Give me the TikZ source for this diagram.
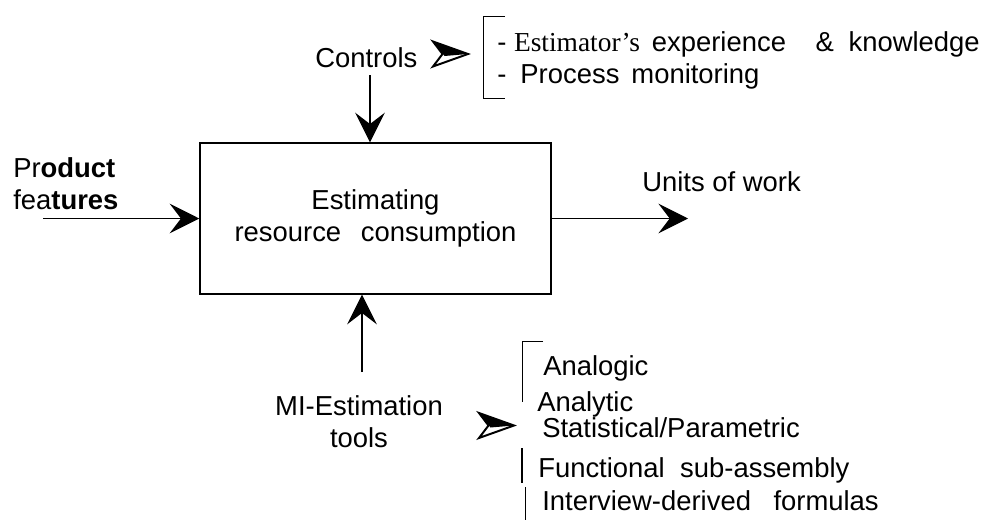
\documentclass[tikz,border=0pt]{standalone}
\usepackage{fontspec}
\setmainfont{Liberation Sans}
\newfontfamily\serifest{Liberation Serif}
\usepackage{tikz}
\usetikzlibrary{arrows.meta}
\tikzstyle{process} = [rectangle, minimum width=8.775cm, minimum height=3.775cm, inner sep=0pt, text centered, align=center, draw=black, line width=1pt]
\tikzstyle{arrow} = [line width=0.8pt,-{Stealth[length=21pt,width=21pt,inset=8pt]}]
\tikzstyle{txt} = [inner sep=0pt, anchor=base west]
\tikzset{bracket/.style={line width=0.7pt},
         pointer/.pic={
           \filldraw[fill=white, line width=1.4pt, line join=miter] (-17.5,-12.5) -- (17.5,0) -- (-17.5,12.5) -- (-8,0) -- cycle;
           \fill (-17.5,-12.5) -- (17.5,0) -- (-6,2) -- cycle;
         }
}

\begin{document}
\begin{tikzpicture}[x=0.025cm, y=-0.025cm, every node/.style={font=\fontsize{19.5}{23}\selectfont}]
\useasboundingbox (0,0) rectangle (989,520);
\node (box) [process] at (375.5,218.5) {Estimating\\resource\hspace{14pt}consumption};
\node (pf) [inner sep=0pt, anchor=west, align=left] at (13,184) {Pr\textbf{oduct}\\fea\textbf{tures}};
\node (uow) [txt] at (642,191) {Units\ of\ work};
\node (ctrl) [txt] at (315,67) {Controls};
\node (ctl1) [txt] at (497,51) {- {\serifest Estimator’s}\hspace{8.5pt}experience\hspace{21pt}\&\hspace{10.5pt}knowledge};
\node (ctl2) [txt] at (497,83) {-\hspace{10pt}Process\hspace{8.5pt}monitoring};
\node (mech) [inner sep=0pt, align=center] at (359,422) {MI-Estimation\\tools};
\node (t1) [txt] at (543,375) {Analogic};
\node (t2) [txt] at (537,411) {Analytic};
\node (t3) [txt] at (542,437) {Statistical/Parametric};
\node (t4) [txt] at (538,477) {Functional\hspace{11pt}sub-assembly};
\node (t5) [txt] at (542,510) {Interview-derived\hspace{16pt}formulas};

\coordinate (in) at (43,218.5);
\coordinate (out) at (688,218.5);
\coordinate (ctlin) at (370,75);
\coordinate (mechin) at (362,372);

\draw [arrow, line width=1.3pt] (in) -- (box.west);
\draw [arrow] (box.east) -- (out);
\draw [arrow] (ctlin) -- (ctlin |- box.north);
\draw [arrow] (mechin) -- (mechin |- box.south);

\pic at (450.5,54) {pointer};
\pic at (496.5,425.5) {pointer};

\draw [bracket] (505,16) -- (483,16) -- (483,98) -- (505,98);
\draw [bracket] (543,341) -- (522,341) -- (522,402);
\draw [line width=1.3pt] (522,448) -- (522,483);
\draw [bracket] (525,487) -- (525,520);
\end{tikzpicture}
\end{document}
